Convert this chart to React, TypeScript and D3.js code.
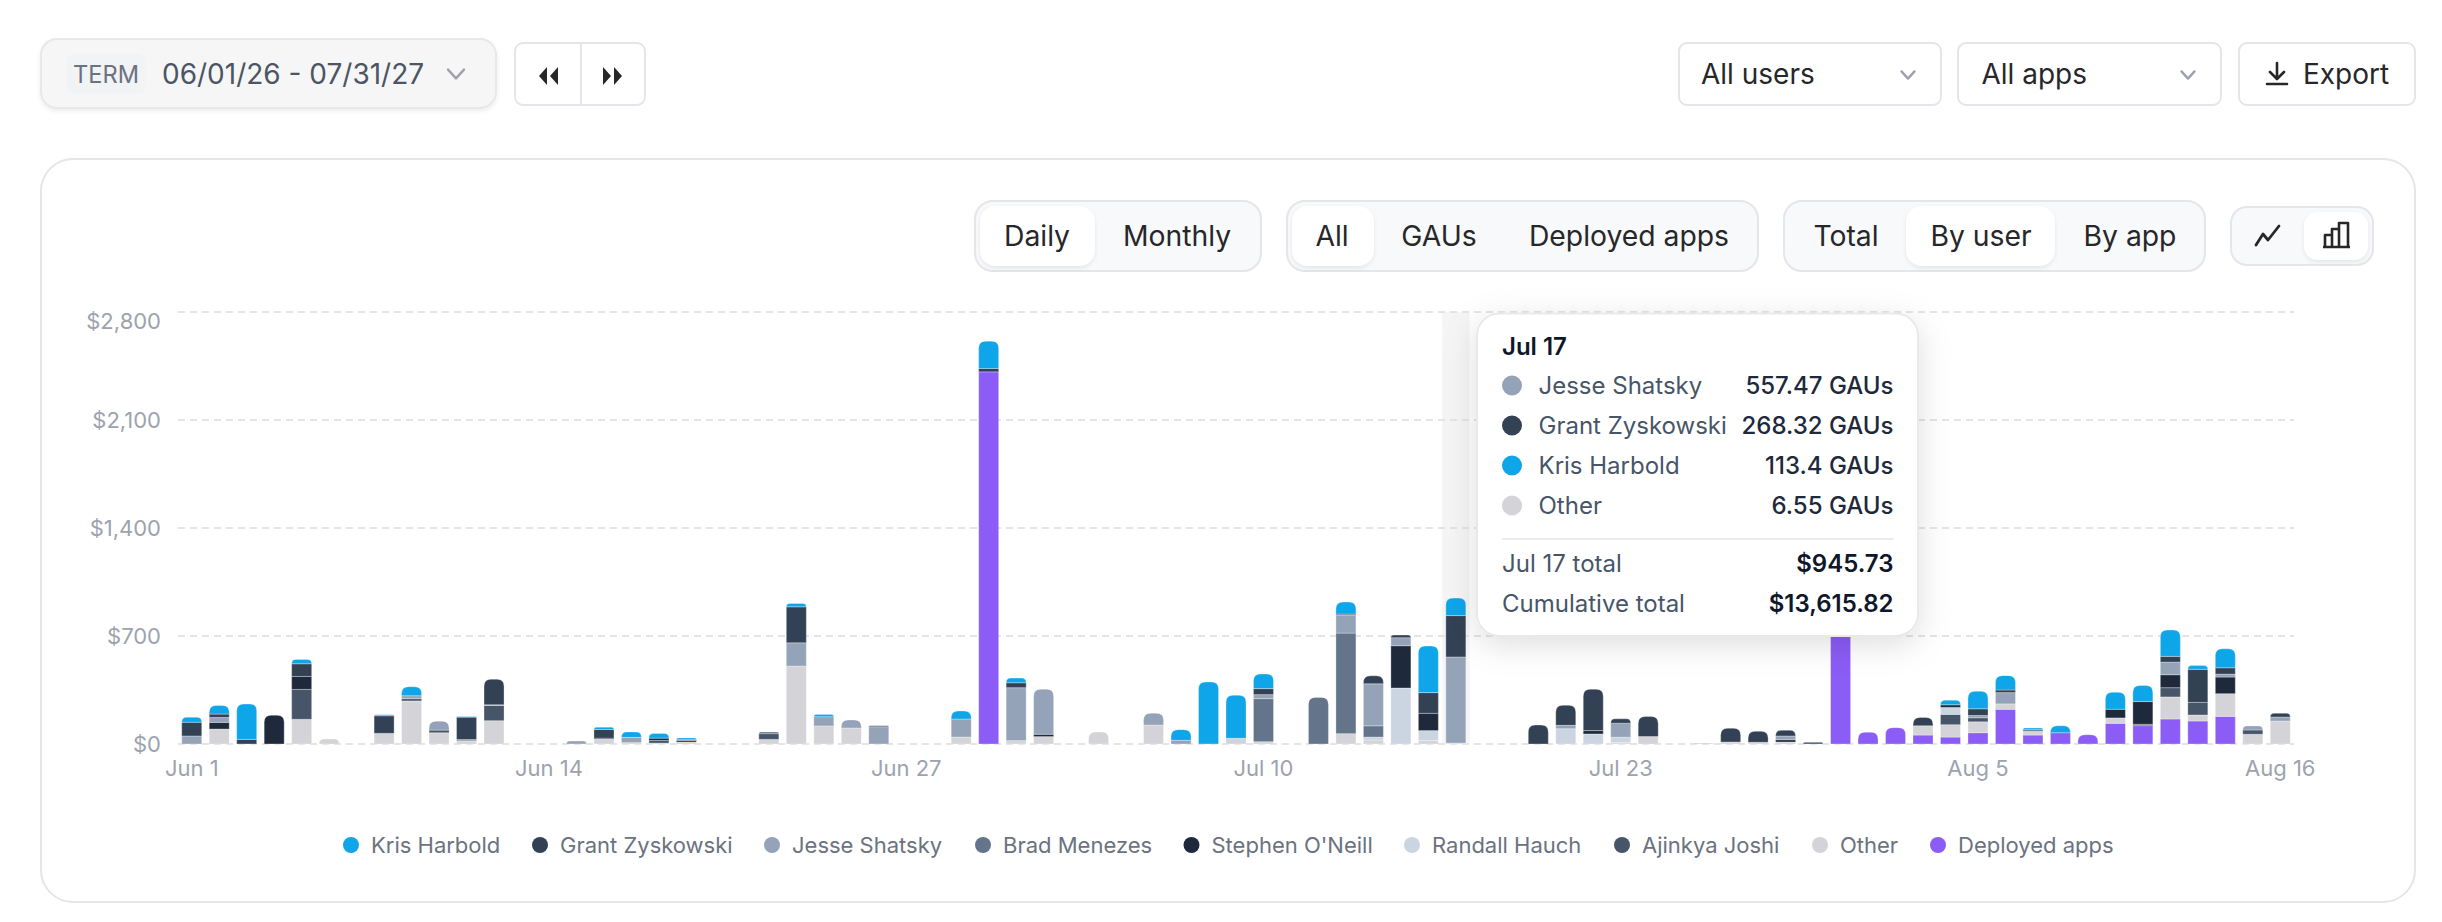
import React from "react";
import * as d3 from "d3";

const days: string[] = d3.timeDay
  .range(new Date(2026, 5, 1), new Date(2026, 7, 17))
  .map((d) => d3.timeFormat("%b %-d")(d));
const xTickLabels = ["Jun 1", "Jun 14", "Jun 27", "Jul 10", "Jul 23", "Aug 5", "Aug 16"];
const yTickValues = [0, 700, 1400, 2100, 2800];

const deployedApps = [
  0,0,0,0,0,0,0,0,0,0,
  0,0,0,0,0,0,0,0,0,0,
  0,0,0,0,0,0,0,0,0,2412,
  0,0,0,0,0,0,0,0,0,0,
  0,0,0,0,0,0,0,0,0,0,
  0,0,0,0,0,0,0,0,0,0,
  800,76,106,58,45,73,225,58,73,60,
  134,119,162,149,179,0,0];
const other = [
  0,97,0,0,160,32,0,69,279,73,
  19,151,0,0,0,32,9,6,13,0,
  0,30,505,117,104,0,0,0,45,0,
  22,48,0,78,0,123,0,0,37,15,
  0,0,67,26,0,22,6.55,0,0,0,
  0,0,9,48,0,0,13,11,13,0,
  0,0,0,60,80,71,35,24,0,0,
  35,0,143,39,147,63,149];
const ajinkyaJoshi = [
  0,0,0,0,194,0,0,0,15,17,
  0,99,0,0,0,0,0,17,0,0,
  0,37,0,0,0,0,0,0,0,0,
  0,0,0,0,0,0,0,0,0,0,
  0,0,0,0,0,0,0,0,0,0,
  0,0,0,0,0,0,0,0,0,11,
  0,0,0,0,67,26,0,0,0,0,
  0,9,60,82,0,28,0];
const randallHauch = [
  0,0,0,0,0,0,0,0,0,0,
  0,0,0,0,0,0,0,0,0,0,
  0,0,0,0,0,0,0,0,0,0,
  0,0,0,0,0,0,0,0,0,0,
  0,0,0,19,363,65,0,0,0,0,
  99,65,35,0,0,0,0,0,0,0,
  0,0,0,0,45,0,0,0,0,0,
  0,0,0,0,0,0,0];
const stephenONeill = [
  0,43,0,186,84,0,0,0,0,0,
  0,0,0,0,0,6,0,15,11,0,
  0,0,0,0,0,0,0,0,0,0,
  0,15,0,0,0,0,0,0,0,0,
  0,0,0,0,274,112,0,0,0,0,
  0,22,0,0,0,0,0,0,15,0,
  0,0,0,0,17,0,0,0,0,0,
  56,147,84,0,108,0,0];
const bradMenezes = [
  0,0,0,0,0,0,0,0,0,0,
  0,0,0,0,0,0,0,0,0,0,
  0,11,0,0,0,0,0,0,0,0,
  0,0,0,0,0,0,0,0,0,279,
  0,302,652,73,0,0,0,0,0,0,
  0,0,0,0,0,0,0,0,0,0,
  0,0,0,0,0,0,0,11,0,0,
  0,0,0,0,0,0,0];
const jesseShatsky = [
  52,32,0,0,0,0,0,0,19,58,
  10,4,0,0,19,0,34,0,4,0,
  0,0,151,60,52,112,0,0,117,0,
  343,292,0,0,0,76,24,0,0,26,
  0,0,117,272,52,0,557.47,0,0,0,
  22,0,91,0,0,4,0,0,24,0,
  0,0,0,0,0,15,73,0,0,0,
  0,0,82,0,19,26,26];
const grantZyskowski = [
  89,22,30,0,82,0,0,114,0,0,
  145,166,0,0,0,56,0,0,0,0,
  0,0,233,0,0,6,0,0,0,22,
  32,0,0,0,0,0,0,0,0,39,
  0,0,6,52,17,134,268.32,0,0,123,
  130,268,28,130,0,0,89,71,37,0,
  0,0,0,54,0,43,17,0,0,0,
  0,0,37,214,41,0,24];
const krisHarbold = [
  32,56,229,0,28,0,0,6,58,0,
  4,0,0,0,0,15,35,30,11,0,
  0,0,22,15,0,0,0,0,52,177,
  30,0,0,0,0,0,69,402,279,95,
  0,0,78,0,0,302,113.4,0,0,0,
  0,0,0,0,0,0,0,0,0,0,
  0,0,0,0,30,114,93,11,45,0,
  110,104,171,24,123,0,0];

const stackSeries = [
  { name: "Deployed apps", values: deployedApps, color: "#8b5cf6" },
  { name: "Other", values: other, color: "#d4d4d8" },
  { name: "Ajinkya Joshi", values: ajinkyaJoshi, color: "#475569" },
  { name: "Randall Hauch", values: randallHauch, color: "#cbd5e1" },
  { name: "Stephen O'Neill", values: stephenONeill, color: "#1e293b" },
  { name: "Brad Menezes", values: bradMenezes, color: "#64748b" },
  { name: "Jesse Shatsky", values: jesseShatsky, color: "#94a3b8" },
  { name: "Grant Zyskowski", values: grantZyskowski, color: "#334155" },
  { name: "Kris Harbold", values: krisHarbold, color: "#0ea5e9" },
];
const legendOrder = ["Kris Harbold", "Grant Zyskowski", "Jesse Shatsky", "Brad Menezes", "Stephen O'Neill", "Randall Hauch", "Ajinkya Joshi", "Other", "Deployed apps"];
const legendDotX = [351, 540, 772, 983, 1191.5, 1412, 1622, 1820, 1938];

const tooltipDay = "Jul 17";
const tooltipRows = [
  { name: "Jesse Shatsky", value: "557.47 GAUs", color: "#94a3b8" },
  { name: "Grant Zyskowski", value: "268.32 GAUs", color: "#334155" },
  { name: "Kris Harbold", value: "113.4 GAUs", color: "#0ea5e9" },
  { name: "Other", value: "6.55 GAUs", color: "#d4d4d8" },
];
const tooltipTotals = [
  { name: "Jul 17 total", value: "$945.73" },
  { name: "Cumulative total", value: "$13,615.82" },
];

const FONT = "Inter, 'Noto Sans', sans-serif";
const MX0 = 178, MX1 = 2294, Y0 = 744, Y1 = 312;

const x = d3.scaleBand<string>().domain(days).range([MX0, MX1]).paddingInner(0.272).paddingOuter(0.136);
const y = d3.scaleLinear().domain([0, 2800]).range([Y0, Y1]);
const stack = d3.stack<number>()
  .keys(stackSeries.map((_, i) => String(i)))
  .value((d, k) => stackSeries[+k].values[d]);
const layers = stack(days.map((_, i) => i));

function topRounded(x0: number, w: number, yt: number, yb: number, r: number) {
  const rr = Math.min(r, yb - yt, w / 2);
  const p = d3.path();
  p.moveTo(x0, yb);
  p.lineTo(x0, yt + rr);
  p.quadraticCurveTo(x0, yt, x0 + rr, yt);
  p.lineTo(x0 + w - rr, yt);
  p.quadraticCurveTo(x0 + w, yt, x0 + w, yt + rr);
  p.lineTo(x0 + w, yb);
  p.closePath();
  return p.toString();
}

const Chevron = ({ cx, cy, color, s = 8 }: any) => (
  <path d={`M${cx - s} ${cy - s * 0.55}L${cx} ${cy + s * 0.55}L${cx + s} ${cy - s * 0.55}`} fill="none" stroke={color} strokeWidth={2.4} strokeLinecap="round" strokeLinejoin="round" />
);

const Box = ({ x0, x1, y0, y1, r = 8, fill = "#fff", stroke = "#e5e5ea", sw = 2, filter }: any) => (
  <rect x={x0} y={y0} width={x1 - x0} height={y1 - y0} rx={r} fill={fill} stroke={stroke} strokeWidth={sw} filter={filter} />
);

const Label = ({ x: px, y: py, size = 28.3, color = "#27272a", anchor = "middle", weight = 400, children }: any) => (
  <text x={px} y={py} fontSize={size} fill={color} textAnchor={anchor} fontWeight={weight} dominantBaseline="central" fontFamily={FONT}>{children}</text>
);

export default function App() {
  const step = x.step();
  const hoverX = MX0 + step * days.indexOf(tooltipDay);
  return (
    <svg width={2442} height={922} style={{ position: "absolute", left: 0, top: 0, background: "#fff" }} fontFamily={FONT}>
      <defs>
        <filter id="tip" x="-20%" y="-20%" width="140%" height="150%">
          <feDropShadow dx={0} dy={8} stdDeviation={16} floodColor="#000" floodOpacity={0.13} />
        </filter>
        <filter id="soft" x="-10%" y="-10%" width="120%" height="130%">
          <feDropShadow dx={0} dy={2} stdDeviation={2} floodColor="#000" floodOpacity={0.08} />
        </filter>
      </defs>

      {/* top controls */}
      <Box x0={41} x1={496} y0={39} y1={108} r={16} fill="#f6f6f7" stroke="#e8e8ea" filter="url(#soft)" />
      <rect x={66} y={54} width={80} height={40} rx={8} fill="#f2f3f5" />
      <Label x={106} y={74} size={23.6} color="#6b7280">TERM</Label>
      <Label x={162} y={74} size={28} color="#4b5563" anchor="start">06/01/26 - 07/31/27</Label>
      <Chevron cx={456} cy={74} color="#a1a1aa" s={8} />

      <Box x0={515} x1={645} y0={43} y1={105} r={8} />
      <line x1={581} x2={581} y1={43} y2={105} stroke="#e5e5ea" strokeWidth={2} />
      <path d="M547 67L539 76L547 85ZM558 67L550 76L558 85Z" fill="#27272a" />
      <path d="M603 67L611 76L603 85ZM614 67L622 76L614 85Z" fill="#27272a" />

      <Box x0={1679} x1={1941} y0={43} y1={105} />
      <Label x={1701} y={74} anchor="start" size={28}>All users</Label>
      <Chevron cx={1908} cy={75} color="#9ca3af" s={6.5} />
      <Box x0={1958} x1={2221} y0={43} y1={105} />
      <Label x={1981.5} y={74} anchor="start" size={28}>All apps</Label>
      <Chevron cx={2188} cy={75} color="#9ca3af" s={6.5} />
      <Box x0={2239} x1={2415} y0={43} y1={105} />
      <path d="M2277 63V78M2270 72L2277 79L2284 72M2267 84H2287" fill="none" stroke="#27272a" strokeWidth={2.6} strokeLinecap="round" strokeLinejoin="round" />
      <Label x={2303} y={74} anchor="start" size={28}>Export</Label>

      {/* card */}
      <Box x0={41} x1={2415} y0={159} y1={902} r={32} />

      {/* segmented controls */}
      <Box x0={975} x1={1261} y0={201} y1={271} r={18} fill="#f8f9fb" />
      <rect x={980} y={206} width={115} height={60} rx={16} fill="#fff" filter="url(#soft)" />
      <Label x={1037} y={236}>Daily</Label>
      <Label x={1177} y={236}>Monthly</Label>

      <Box x0={1287} x1={1758} y0={201} y1={271} r={18} fill="#f8f9fb" />
      <rect x={1292} y={206} width={82} height={60} rx={16} fill="#fff" filter="url(#soft)" />
      <Label x={1332} y={236}>All</Label>
      <Label x={1439} y={236}>GAUs</Label>
      <Label x={1629} y={236}>Deployed apps</Label>

      <Box x0={1784} x1={2205} y0={201} y1={271} r={18} fill="#f8f9fb" />
      <rect x={1906} y={206} width={149} height={60} rx={16} fill="#fff" filter="url(#soft)" />
      <Label x={1846} y={236}>Total</Label>
      <Label x={1981} y={236}>By user</Label>
      <Label x={2130} y={236}>By app</Label>

      <Box x0={2231} x1={2373} y0={207} y1={265} r={16} fill="#f8f9fb" />
      <rect x={2304} y={212} width={64} height={48} rx={14} fill="#fff" filter="url(#soft)" />
      <path d="M2256 245L2263 234L2268 240L2279 226" fill="none" stroke="#27272a" strokeWidth={2.8} strokeLinecap="round" strokeLinejoin="round" />
      <path d="M2325 247V235H2332V247ZM2332 247V229H2339V247ZM2339 247V223H2348V247ZM2323 247H2350" fill="none" stroke="#27272a" strokeWidth={2.6} strokeLinejoin="round" />

      {/* hover band */}
      <rect x={hoverX} y={Y1} width={step} height={Y0 - Y1} fill="#f5f5f6" />

      {/* grid + y axis */}
      {yTickValues.map((t) => (
        <g key={t}>
          <line x1={MX0} x2={MX1} y1={y(t)} y2={y(t)} stroke="#e4e4e7" strokeWidth={2} strokeDasharray="7 5" />
          {/* the top label is kept inside the plot area, so it sits below its gridline */}
          <Label x={161} y={y(t) + (t === 2800 ? 9 : 0)} size={22} color="#9ca3af" anchor="end">{d3.format("$,")(t)}</Label>
        </g>
      ))}

      {/* bars */}
      {layers.map((layer, si) => (
        <g key={si}>
          {layer.map((seg, di) => {
            if (seg[1] - seg[0] <= 0) return null;
            const isTop = layers.every((l, j) => j <= si || l[di][1] - l[di][0] <= 0);
            const bx = x(days[di])!, bw = x.bandwidth();
            const yt = y(seg[1]), yb = y(seg[0]);
            return isTop
              ? <path key={di} d={topRounded(bx, bw, yt, yb, 7)} fill={stackSeries[si].color} stroke="#fff" strokeOpacity={0.3} strokeWidth={1} />
              : <rect key={di} x={bx} y={yt} width={bw} height={yb - yt} fill={stackSeries[si].color} stroke="#fff" strokeOpacity={0.3} strokeWidth={1} />;
          })}
        </g>
      ))}

      {/* x axis labels */}
      {xTickLabels.map((t) => (
        <Label key={t} x={x(t)! + x.bandwidth() / 2} y={768} size={22} color="#9ca3af">{t}</Label>
      ))}

      {/* legend */}
      {legendOrder.map((name, i) => {
        const s = stackSeries.find((v) => v.name === name)!;
        return (
          <g key={name}>
            <circle cx={legendDotX[i]} cy={845} r={8} fill={s.color} />
            <Label x={legendDotX[i] + 20} y={845} size={22} color="#6b7280" anchor="start">{name}</Label>
          </g>
        );
      })}

      {/* tooltip */}
      <rect x={1477} y={313.5} width={441} height={322.5} rx={22} fill="#fff" stroke="#e9e9ec" strokeWidth={2} filter="url(#tip)" />
      <Label x={1502} y={346} size={24} color="#0f172a" anchor="start" weight={600}>{tooltipDay}</Label>
      {tooltipRows.map((r, i) => (
        <g key={r.name}>
          <circle cx={1512} cy={385.5 + i * 40} r={10} fill={r.color} />
          <Label x={1538.5} y={385.5 + i * 40} size={24} color="#475569" anchor="start">{r.name}</Label>
          <Label x={1893.5} y={385.5 + i * 40} size={24} color="#1e293b" anchor="end" weight={500}>{r.value}</Label>
        </g>
      ))}
      <line x1={1502} x2={1893.5} y1={539} y2={539} stroke="#ececee" strokeWidth={2} />
      {tooltipTotals.map((r, i) => (
        <g key={r.name}>
          <Label x={1502} y={563.5 + i * 40} size={24} color="#475569" anchor="start">{r.name}</Label>
          <Label x={1893.5} y={563.5 + i * 40} size={24} color="#0f172a" anchor="end" weight={600}>{r.value}</Label>
        </g>
      ))}
    </svg>
  );
}
